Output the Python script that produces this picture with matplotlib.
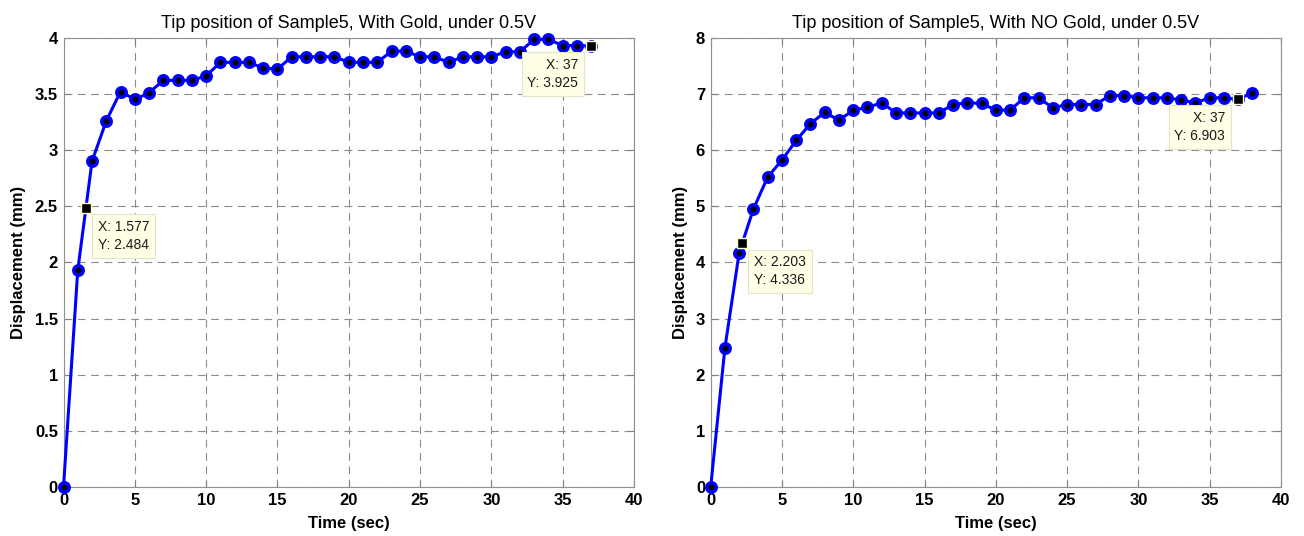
import matplotlib
matplotlib.use('Agg')
import matplotlib.pyplot as plt
from matplotlib.ticker import FuncFormatter

# time stamps (sec)
time_gold = list(range(0, 38))
time_nogold = list(range(0, 39))

# tip displacement (mm)
disp_gold = [0.0, 1.93, 2.90, 3.26, 3.52, 3.45, 3.51, 3.62, 3.62, 3.62,
             3.66, 3.78, 3.78, 3.78, 3.73, 3.72, 3.83, 3.83, 3.83, 3.83,
             3.78, 3.78, 3.78, 3.88, 3.88, 3.83, 3.83, 3.78, 3.83, 3.83,
             3.83, 3.875, 3.875, 3.985, 3.985, 3.93, 3.93, 3.925]
disp_nogold = [0.0, 2.48, 4.175, 4.95, 5.52, 5.82, 6.17, 6.47, 6.67, 6.53,
               6.71, 6.76, 6.84, 6.66, 6.66, 6.66, 6.66, 6.81, 6.84, 6.83,
               6.71, 6.71, 6.93, 6.93, 6.75, 6.81, 6.81, 6.81, 6.97, 6.97,
               6.93, 6.93, 6.93, 6.89, 6.84, 6.93, 6.93, 6.903, 7.02]

# data tips: x, y, which side of the square the box hangs
tips_gold = [(1.577, 2.484, 'left'), (37, 3.925, 'right')]
tips_nogold = [(2.203, 4.336, 'left'), (37, 6.903, 'right')]

titles = ['Tip position of Sample5, With Gold, under 0.5V',
          'Tip position of Sample5, With NO Gold, under 0.5V']

plt.rcParams['font.family'] = ['Liberation Sans', 'DejaVu Sans']

fig = plt.figure(figsize=(13.04, 5.36), dpi=100)
ax1 = fig.add_axes([0.0487, 0.0914, 0.4375, 0.8383])
ax2 = fig.add_axes([0.5450, 0.0914, 0.4373, 0.8383])


def draw_panel(ax, t, d, tips, title, ymax, ystep):
    ax.plot(t, d, color='#0000ff', lw=2.2, marker='o', ms=6.8,
            mfc='black', mec='#0000ff', mew=2.5, zorder=3, clip_on=False)
    ax.set_xlim(0, 40)
    ax.set_ylim(0, ymax)
    ax.set_xticks(range(0, 41, 5))
    yt = [i * ystep for i in range(int(round(ymax / ystep)) + 1)]
    ax.set_yticks(yt)
    ax.yaxis.set_major_formatter(FuncFormatter(lambda v, p: '%g' % v))
    ax.grid(True, color='#8c8c8c', linestyle=(0, (7, 5)), lw=0.8)
    ax.tick_params(direction='in', top=True, right=True, length=4,
                   color='#808080', labelsize=12, pad=4)
    for lab in ax.get_xticklabels() + ax.get_yticklabels():
        lab.set_fontweight('bold')
    for s in ax.spines.values():
        s.set_color('#909090')
    ax.set_title(title, fontsize=13, pad=7)
    ax.set_xlabel('Time (sec)', fontsize=12, fontweight='bold', labelpad=6)
    ax.set_ylabel('Displacement (mm)', fontsize=12, fontweight='bold',
                  labelpad=6)
    for x, y, side in tips:
        ax.plot([x], [y], 's', color='black', mec='#ffffc8', ms=6.5, mew=1,
                zorder=6, clip_on=False)
        ox = 12 if side == 'left' else -13
        ax.annotate('X: %g\nY: %g' % (x, y), xy=(x, y), xytext=(ox, -12),
                    textcoords='offset pixels', ha=side, va='top',
                    fontsize=10, color='#1a1a1a', linespacing=1.35,
                    bbox=dict(boxstyle='square,pad=0.42', fc='#ffffe6',
                              ec='#e4e4cc', lw=0.8),
                    zorder=5)


draw_panel(ax1, time_gold, disp_gold, tips_gold, titles[0], 4, 0.5)
draw_panel(ax2, time_nogold, disp_nogold, tips_nogold, titles[1], 8, 1)

plt.savefig('out.png', dpi=100)
